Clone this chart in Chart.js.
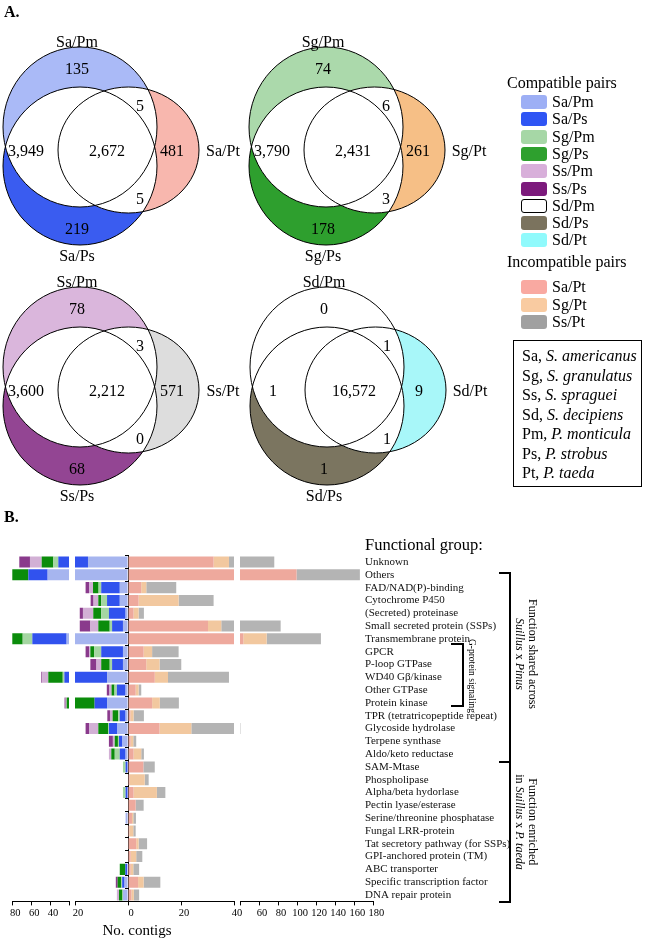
<!DOCTYPE html>
<html>
<head>
<meta charset="utf-8">
<script src="https://cdn.jsdelivr.net/npm/chart.js@4.4.1/dist/chart.umd.min.js"></script>
<style>
  body { margin: 0; background: #fff; font-family: "Liberation Serif", "Times New Roman", serif; color: #000; }
  #page { position: relative; width: 654px; height: 940px; overflow: hidden; }
  canvas { position: absolute; left: 0; }
  .abs { position: absolute; white-space: nowrap; }
  .head { font-size: 16px; line-height: 18px; }
  .sw { position: absolute; width: 26px; height: 14px; border-radius: 3px; }
  .vert { position: absolute; writing-mode: vertical-rl; text-align: center; transform: translate(-50%, -50%); white-space: nowrap; }
  .brk { position: absolute; border: 2px solid #000; border-left: none; box-sizing: border-box; }
</style>
</head>
<body>
<div id="page">
  <canvas id="venn" width="654" height="530" style="top:0"></canvas>
  <canvas id="segLeft" width="654" height="410" style="top:530px"></canvas>
  <canvas id="segMid" width="654" height="410" style="top:530px"></canvas>
  <canvas id="segRight" width="654" height="410" style="top:530px"></canvas>
  <canvas id="segLabels" width="654" height="410" style="top:530px"></canvas>

  <div class="abs" style="left:4px;top:3px;font-size:16px;font-weight:bold">A.</div>
  <div class="abs" style="left:4px;top:508px;font-size:16px;font-weight:bold">B.</div>
  <div id="legend"></div>
  <div id="species" class="abs" style="left:513px;top:340px;width:129px;height:147px;border:1px solid #000;box-sizing:border-box"></div>

  <div class="abs" style="left:365px;top:535px;font-size:16.5px">Functional group:</div>
  <div class="abs" style="left:137px;top:930px;font-size:15px;transform:translate(-50%,-50%)">No. contigs</div>

  <div class="brk" style="left:499px;top:572px;width:12px;height:191px"></div>
  <div class="brk" style="left:499px;top:761px;width:12px;height:142px"></div>
  <div class="brk" style="left:451px;top:643px;width:13px;height:64px"></div>
  <div class="vert" style="left:526px;top:654px;font-size:12px;line-height:13px">Function shared across<br><i>Suillus</i> x <i>Pinus</i></div>
  <div class="vert" style="left:526px;top:822px;font-size:12px;line-height:13px">Function enriched<br>in <i>Suillus</i> x <i>P. taeda</i></div>
  <div class="vert" style="left:472px;top:676px;font-size:9.5px;line-height:10px">G-protein signaling</div>
</div>

<script>
// ---- Venn counts: Pm only, Pm&Ps, all three, Pt only, Pm&Pt, Ps&Pt, Ps only
const saCounts = [135, 3949, 2672, 481, 5, 5, 219];
const sgCounts = [74, 3790, 2431, 261, 6, 3, 178];
const ssCounts = [78, 3600, 2212, 571, 3, 0, 68];
const sdCounts = [0, 1, 16572, 9, 1, 1, 1];
const vennGroups = ['Sa', 'Sg', 'Ss', 'Sd'];

// ---- legend entries
const compatiblePairs = ['Sa/Pm', 'Sa/Ps', 'Sg/Pm', 'Sg/Ps', 'Ss/Pm', 'Ss/Ps', 'Sd/Pm', 'Sd/Ps', 'Sd/Pt'];
const incompatiblePairs = ['Sa/Pt', 'Sg/Pt', 'Ss/Pt'];
const speciesAbbr = ['Sa', 'Sg', 'Ss', 'Sd', 'Pm', 'Ps', 'Pt'];
const speciesNames = ['S. americanus', 'S. granulatus', 'S. spraguei', 'S. decipiens', 'P. monticula', 'P. strobus', 'P. taeda'];

// ---- panel B: functional groups and contig counts per pair
const functionalGroups = ['Unknown', 'Others', 'FAD/NAD(P)-binding', 'Cytochrome P450', '(Secreted) proteinase',
  'Small secreted protein (SSPs)', 'Transmembrane protein', 'GPCR', 'P-loop GTPase', 'WD40 Gβ/kinase',
  'Other GTPase', 'Protein kinase', 'TPR (tetratricopeptide repeat)', 'Glycoside hydrolase', 'Terpene synthase',
  'Aldo/keto reductase', 'SAM-Mtase', 'Phospholipase', 'Alpha/beta hydorlase', 'Pectin lyase/esterase',
  'Serine/threonine phosphatase', 'Fungal LRR-protein', 'Tat secretory pathway (for SSPs)',
  'GPI-anchored protein (TM)', 'ABC transporter', 'Specific transcription factor', 'DNA repair protein'];
// compatible pairs (drawn to the left)
const saPm = [15.1, 42.6, 3.1, 3.1, 0.9, 1.9, 22.5, 1.9, 1.9, 7.9, 0.9, 7.9, 0.9, 4.0, 2.1, 0.9, 0, 0, 0, 0, 0.9, 0, 0, 0, 0.3, 1.3, 1.9];
const saPs = [16.2, 20.4, 7.0, 4.8, 6.3, 4.1, 36.3, 8.2, 4.1, 17.0, 3.3, 4.7, 2.2, 3.2, 1.3, 2.2, 0.9, 0, 0.9, 0, 0, 0, 0, 0, 0.7, 0.9, 0];
const sgPm = [5.3, 0, 1.0, 2.2, 2.9, 0.9, 10.2, 2.7, 0.9, 1.7, 0.9, 0, 0.6, 0.3, 0.4, 1.9, 1.0, 0, 1.0, 0, 0, 0, 0, 0, 0, 0.3, 0.2];
const sgPs = [12.3, 18, 2.1, 1.1, 3.0, 4.3, 13, 1.4, 3.2, 15.3, 1.1, 9.9, 2.1, 3.7, 1.2, 1.3, 0, 0, 0, 0, 0, 0, 0, 0, 2.1, 1.4, 1.3];
const ssPm = [12.4, 4, 1.5, 1.8, 3.9, 3.0, 3, 0.5, 1.8, 6.3, 0.8, 1.0, 1.0, 3.5, 0.7, 0.9, 0, 0, 0, 0, 0, 0, 0, 0, 0, 0, 0.8];
const ssPs = [11.3, 3, 1.3, 1.1, 1.2, 4.0, 3, 1.3, 2.3, 1.1, 1.0, 1.2, 1.0, 1.3, 1.5, 0, 0, 0, 0, 0, 0, 0, 0, 0, 0, 0.7, 0];
// incompatible pairs (drawn to the right)
const saPt = [32.3, 99.4, 5.0, 4.0, 2.1, 30.2, 43.5, 5.9, 6.9, 10.1, 2.9, 9.1, 0.9, 11.9, 1.0, 2.1, 5.8, 0.6, 2.1, 2.9, 1.5, 0.5, 3.1, 1.0, 1.0, 3.8, 1.3];
const sgPt = [5.8, 0, 1.9, 15.1, 1.9, 5.0, 24.5, 3.2, 5.0, 5.0, 1.1, 2.9, 1.2, 12.0, 1.0, 2.9, 0, 5.7, 8.8, 0, 0.5, 1.5, 0.9, 2.1, 1.0, 2.1, 0.9];
const ssPt = [37.9, 66.5, 11.3, 13.2, 2.0, 47.5, 57.0, 10.0, 8.2, 23.0, 1.0, 7.2, 3.9, 16.5, 1.1, 1.0, 4.3, 1.5, 3.2, 3.0, 1.0, 0.9, 3.2, 2.3, 2.2, 6.3, 2.0];

// ---- styles
const legendColors = {
  'Sa/Pm': '#9daff5', 'Sa/Ps': '#2f55f4', 'Sg/Pm': '#a6d7a6', 'Sg/Ps': '#2ea02e', 'Ss/Pm': '#d8afda',
  'Ss/Ps': '#7c1a7c', 'Sd/Pm': '#ffffff', 'Sd/Ps': '#7b735e', 'Sd/Pt': '#90fafc',
  'Sa/Pt': '#f9a9a1', 'Sg/Pt': '#f9cba1', 'Ss/Pt': '#a0a0a0'
};
const vennColors = {
  Sa: ['#aabaf7', '#3a5cf0', '#f8b7ae'],
  Sg: ['#abd9ab', '#2e9f2e', '#f6bf86'],
  Ss: ['#dab6dc', '#934593', '#dddddd'],
  Sd: ['#ffffff', '#7b7560', '#a8f7f9']
};
const barColors = {
  'Sa/Pm': '#a6b5ef', 'Sa/Ps': '#3152ee', 'Sg/Pm': '#a5d6a2', 'Sg/Ps': '#0b8c0b', 'Ss/Pm': '#d2b0d5',
  'Ss/Ps': '#8a3a8c', 'Sa/Pt': '#eea99d', 'Sg/Pt': '#f2c89f', 'Ss/Pt': '#b4b4b4'
};
const SERIF = '"Liberation Serif", "Times New Roman", serif';

// Venn layout (in page units, first diagram; others shifted)
const VENN_ORIGIN = [[0, 0], [246, 0], [0, 240], [247, 240]];
const VENN_SHAPE = [
  { cx: 80, cy: 127, rx: 77, ry: 80 },   // Pm
  { cx: 80, cy: 166, rx: 77, ry: 79 },   // Ps
  { cx: 128.5, cy: 150, rx: 70.5, ry: 63 } // Pt
];
const VENN_TEXT = [[77, 70], [26, 152], [107, 152], [172, 152], [140, 107], [140, 200], [77, 230]];
const VENN_LABEL = [[77, 43], [77, 257], [223, 152]];

// ---- legend + species box (html)
(function buildLegend() {
  const lg = document.getElementById('legend');
  let html = '<div class="abs head" style="left:507px;top:74px">Compatible pairs</div>';
  compatiblePairs.forEach((p, i) => {
    const y = 102 + i * 17.3;
    const border = p === 'Sd/Pm' ? 'border:1.5px solid #000;box-sizing:border-box;' : '';
    html += `<div class="sw" style="left:521px;top:${y - 7}px;background:${legendColors[p]};${border}"></div>`;
    html += `<div class="abs head" style="left:552px;top:${y - 9}px">${p}</div>`;
  });
  html += '<div class="abs head" style="left:507px;top:253px">Incompatible pairs</div>';
  incompatiblePairs.forEach((p, i) => {
    const y = 287 + i * 17.5;
    html += `<div class="sw" style="left:521px;top:${y - 7}px;background:${legendColors[p]}"></div>`;
    html += `<div class="abs head" style="left:552px;top:${y - 9}px">${p}</div>`;
  });
  lg.innerHTML = html;

  const box = document.getElementById('species');
  box.innerHTML = speciesAbbr.map((a, i) =>
    `<div class="abs head" style="left:8px;top:${6 + i * 19.5}px">${a}, <i>${speciesNames[i]}</i></div>`).join('');
})();

// ---- panel A: Venn diagrams drawn on a chart canvas
const vennPlugin = {
  id: 'venn',
  afterDraw(chart) {
    const { ctx } = chart;
    const xs = chart.scales.x, ys = chart.scales.y;
    const allCounts = [saCounts, sgCounts, ssCounts, sdCounts];
    vennGroups.forEach((g, gi) => {
      const [ox, oy] = VENN_ORIGIN[gi];
      const shape = (s) => {
        const cx = xs.getPixelForValue(ox + s.cx), cy = ys.getPixelForValue(oy + s.cy);
        const rx = xs.getPixelForValue(ox + s.cx + s.rx) - cx;
        const ry = ys.getPixelForValue(oy + s.cy + s.ry) - cy;
        ctx.beginPath();
        ctx.ellipse(cx, cy, Math.abs(rx), Math.abs(ry), 0, 0, Math.PI * 2);
      };
      const [A, B, C] = VENN_SHAPE;
      const cols = vennColors[g];
      ctx.save();
      // single-pair regions
      shape(A); ctx.fillStyle = cols[0]; ctx.fill();
      shape(B); ctx.fillStyle = cols[1]; ctx.fill();
      shape(C); ctx.fillStyle = cols[2]; ctx.fill();
      // overlaps are white
      ctx.fillStyle = '#fff';
      ctx.save(); shape(A); ctx.clip(); shape(B); ctx.fill(); shape(C); ctx.fill(); ctx.restore();
      ctx.save(); shape(B); ctx.clip(); shape(C); ctx.fill(); ctx.restore();
      ctx.strokeStyle = '#000'; ctx.lineWidth = 1;
      [A, B, C].forEach(s => { shape(s); ctx.stroke(); });

      ctx.fillStyle = '#000';
      ctx.font = '16px ' + SERIF;
      ctx.textAlign = 'center';
      ctx.textBaseline = 'middle';
      allCounts[gi].forEach((n, i) => {
        const [tx, ty] = VENN_TEXT[i];
        ctx.fillText(n.toLocaleString('en-US'), xs.getPixelForValue(ox + tx), ys.getPixelForValue(oy + ty));
      });
      ['Pm', 'Ps', 'Pt'].forEach((p, i) => {
        const [tx, ty] = VENN_LABEL[i];
        ctx.fillText(g + '/' + p, xs.getPixelForValue(ox + tx), ys.getPixelForValue(oy + ty));
      });
      ctx.restore();
    });
  }
};

new Chart(document.getElementById('venn'), {
  type: 'scatter',
  data: { datasets: [] },
  options: {
    responsive: false, animation: false, events: [],
    layout: { padding: 0 },
    plugins: { legend: { display: false }, tooltip: { enabled: false } },
    scales: {
      x: { type: 'linear', min: 0, max: 654, display: false },
      y: { type: 'linear', min: 0, max: 530, reverse: true, display: false }
    }
  },
  plugins: [vennPlugin]
});

// ---- panel B: broken x axis = three overlapping charts with different ranges
const leftSeries = [['Sa/Pm', saPm], ['Sa/Ps', saPs], ['Sg/Pm', sgPm], ['Sg/Ps', sgPs], ['Ss/Pm', ssPm], ['Ss/Ps', ssPs]];
const rightSeries = [['Sa/Pt', saPt], ['Sg/Pt', sgPt], ['Ss/Pt', ssPt]];

function makeDatasets() {
  const ds = [];
  leftSeries.forEach(([name, vals]) => ds.push({ label: name, data: vals.map(v => -v), backgroundColor: barColors[name] }));
  rightSeries.forEach(([name, vals]) => ds.push({ label: name, data: vals.slice(), backgroundColor: barColors[name] }));
  ds.forEach(d => { d.clip = 0; d.borderWidth = 0; d.barPercentage = 0.86; d.categoryPercentage = 1; });
  return ds;
}

function makeSegment(id, min, max, padLeft, padRight, hideTick, yScale) {
  return new Chart(document.getElementById(id), {
    type: 'bar',
    data: { labels: functionalGroups, datasets: makeDatasets() },
    options: {
      indexAxis: 'y', responsive: false, animation: false, events: [],
      layout: { padding: { left: padLeft, right: padRight, top: 25.6, bottom: 16.6 } },
      plugins: { legend: { display: false }, tooltip: { enabled: false } },
      scales: {
        x: {
          type: 'linear', stacked: true, min: min, max: max,
          afterFit: s => { s.height = 22; s.paddingLeft = 0; s.paddingRight = 0; },
          ticks: {
            stepSize: 20, autoSkip: false, maxRotation: 0, color: '#000', padding: 2, labelOffset: 3,
            font: { family: SERIF, size: 10.5 },
            callback: v => (v === hideTick ? '' : Math.abs(v))
          },
          grid: { drawOnChartArea: false, color: '#000', tickLength: 4 },
          border: { color: '#000', width: 1 }
        },
        y: yScale
      }
    }
  });
}

// far left: 80..20
makeSegment('segLeft', -80, -20, 12.3, 654 - 69, -20, { stacked: true, display: false });
// middle: 20..0..40, with the zero line
makeSegment('segMid', -20, 40, 75, 654 - 234, null, {
  stacked: true, position: { x: 0 }, z: 1,
  ticks: { display: false },
  grid: { drawOnChartArea: false, color: '#000', tickLength: 3 },
  border: { color: '#000', width: 1 }
});
// right: 40..180
makeSegment('segRight', 40, 180, 240, 654 - 373.3, 40, { stacked: true, display: false });

// functional group names: category axis of an empty chart whose plot area ends where the text starts
new Chart(document.getElementById('segLabels'), {
  type: 'bar',
  data: { labels: functionalGroups, datasets: [] },
  options: {
    indexAxis: 'y', responsive: false, animation: false, events: [],
    layout: { padding: { left: 0, right: 0, top: 25.6, bottom: 38.6 } },
    plugins: { legend: { display: false }, tooltip: { enabled: false } },
    scales: {
      x: { type: 'linear', display: false, min: 0, max: 1 },
      y: {
        position: 'right',
        afterFit: s => { s.width = 654 - 365; },
        ticks: { autoSkip: false, padding: 0, color: '#111', font: { family: SERIF, size: 11 } },
        grid: { display: false, drawTicks: false },
        border: { display: false }
      }
    }
  }
});
</script>
</body>
</html>
